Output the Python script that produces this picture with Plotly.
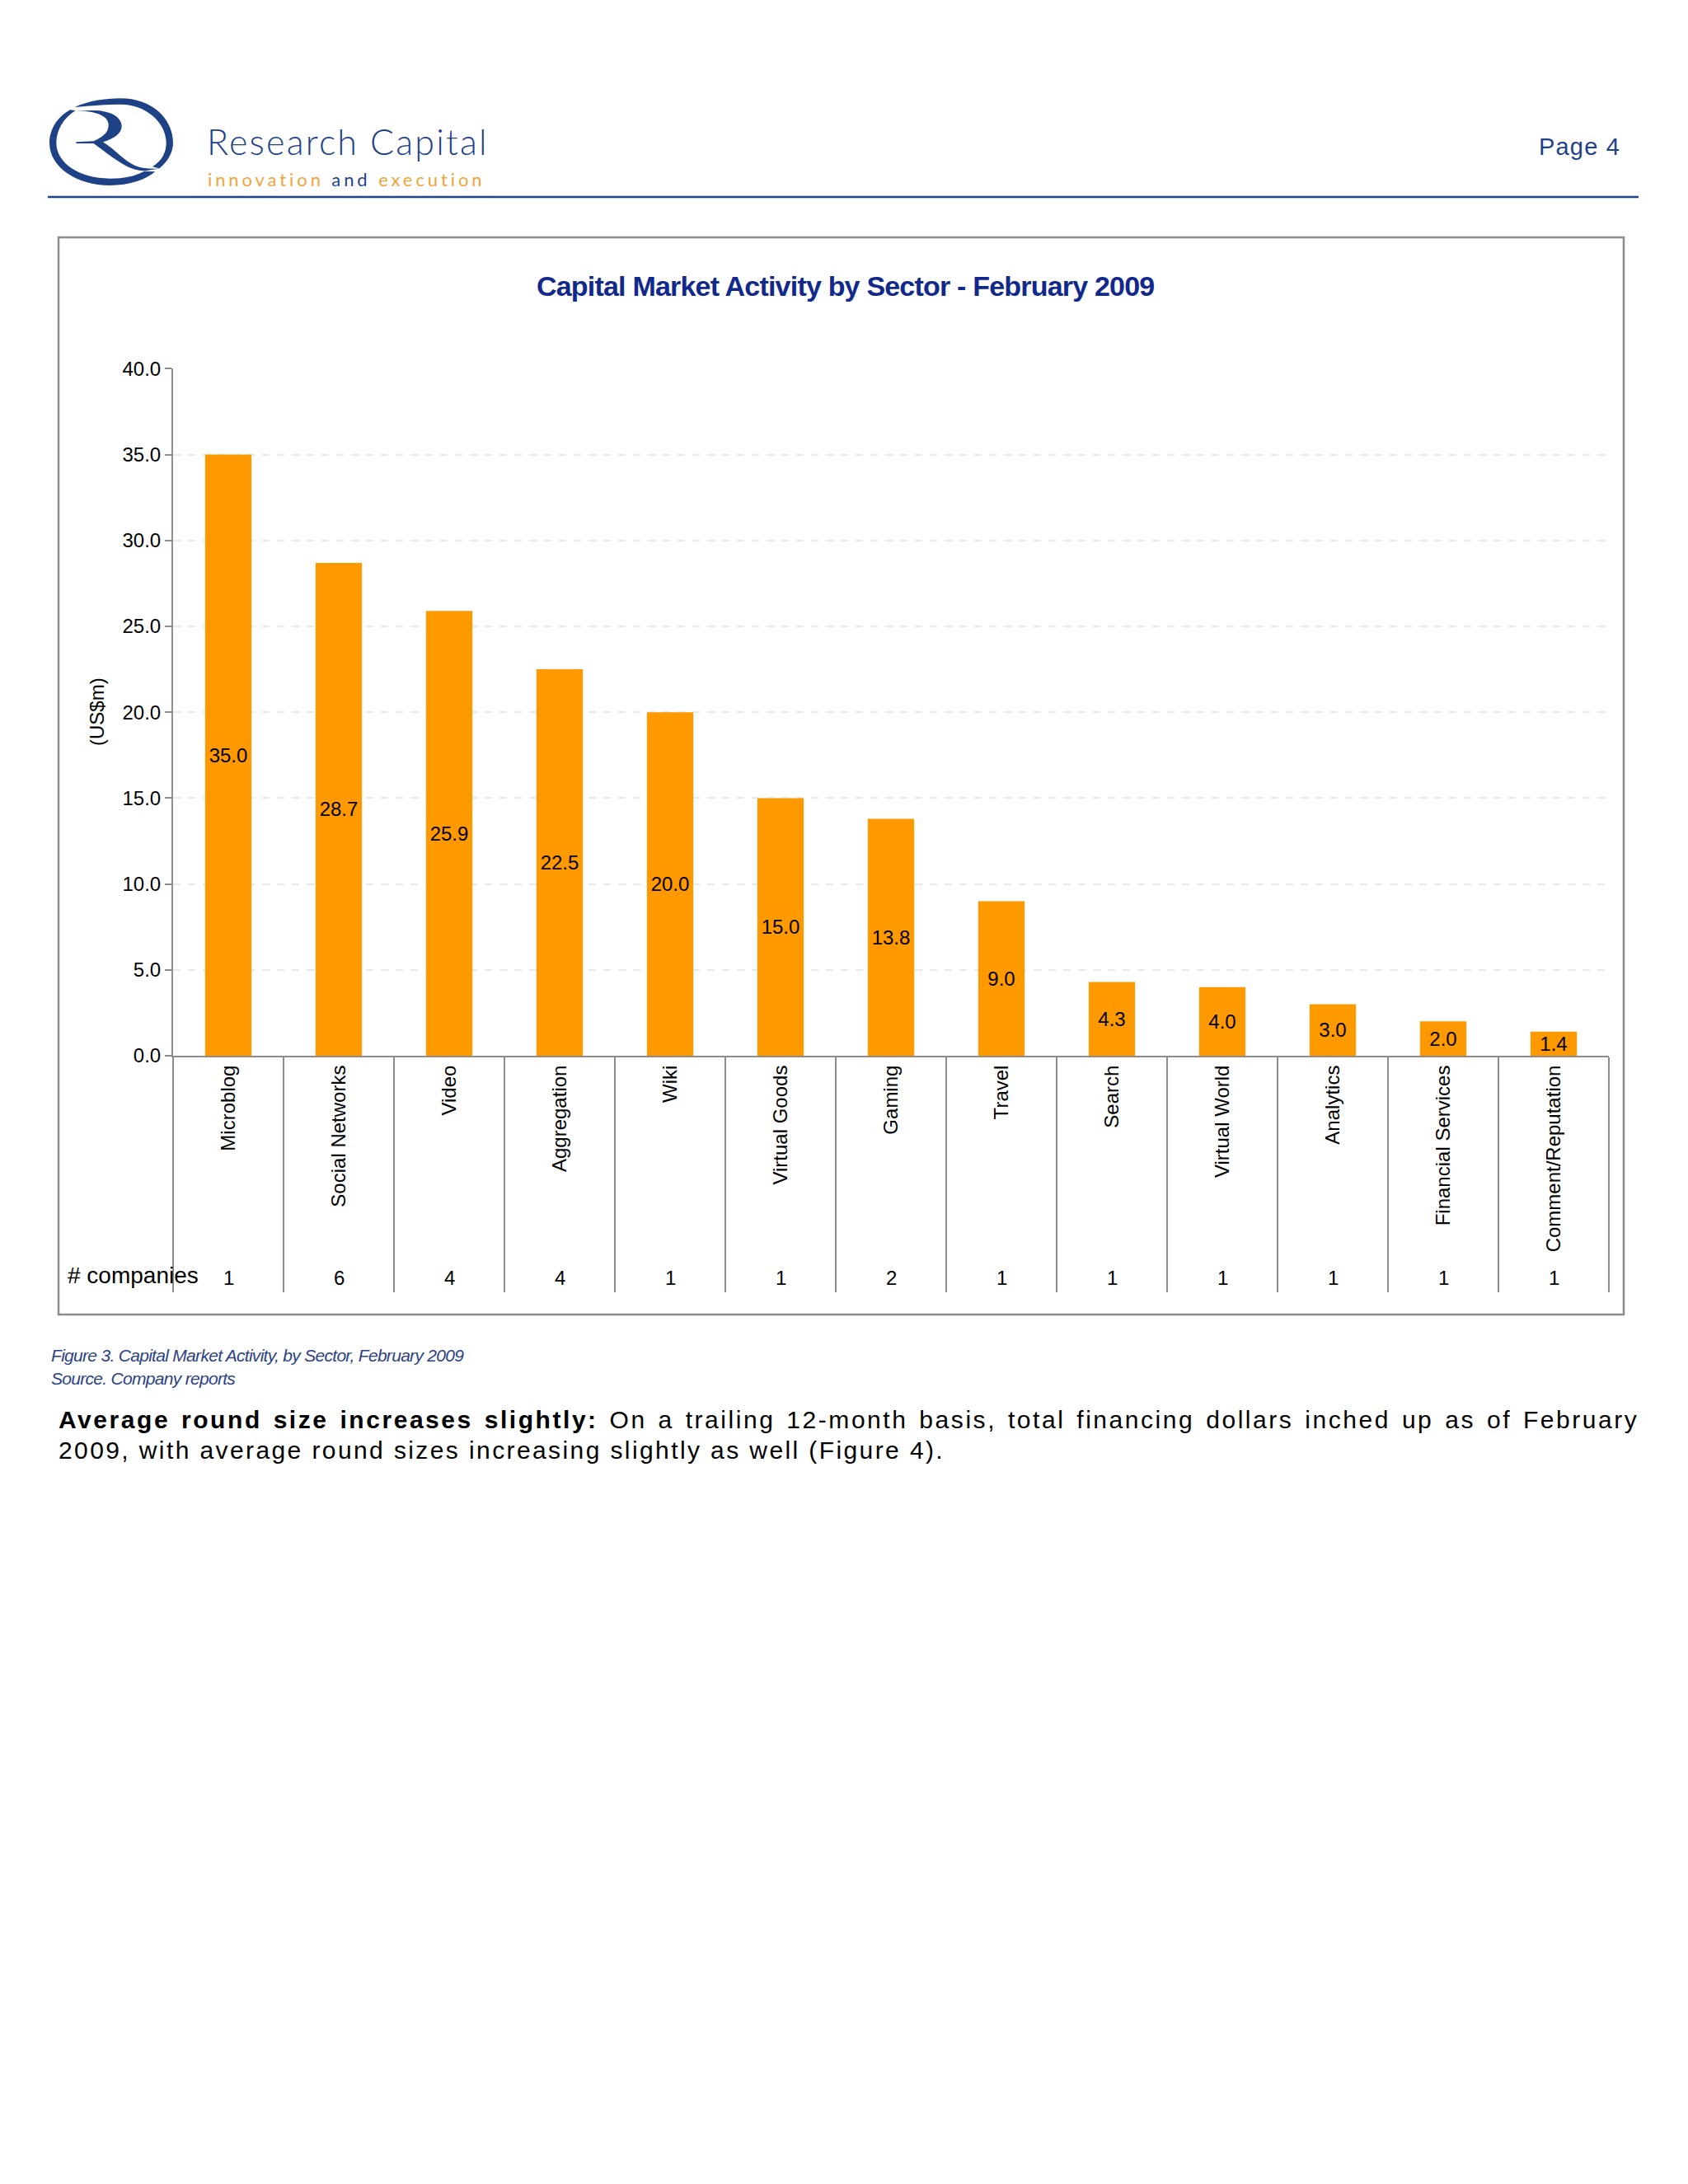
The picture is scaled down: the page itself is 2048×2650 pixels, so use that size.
import re
import plotly.graph_objects as go

# ข้อมูลกราฟ
sectors = ['Microblog', 'Social Networks', 'Video', 'Aggregation', 'Wiki', 'Virtual Goods', 'Gaming',
           'Travel', 'Search', 'Virtual World', 'Analytics', 'Financial Services', 'Comment/Reputation']
amounts = [35.0, 28.7, 25.9, 22.5, 20.0, 15.0, 13.8, 9.0, 4.3, 4.0, 3.0, 2.0, 1.4]
companies = [1, 6, 4, 4, 1, 1, 2, 1, 1, 1, 1, 1, 1]
y_ticks = [0, 5, 10, 15, 20, 25, 30, 35, 40]

W, H = 2048, 2650
OFF = 8  # ระยะขอบ body ของหน้า html
NAVY = '#1F4287'
ORANGE = '#F2A33A'
GREY = '#8C8C8C'
FONT = 'Liberation Sans'


def px(x):
    return (x - OFF) / W


def py(y):
    return 1 - (y - OFF) / H


def note(x, y, text, size, color='black', anchor='left', font=FONT, spacing=None, words=None, weight=None, **kw):
    # ข้อความบนหน้ากระดาษ โดยใช้พิกัด pixel ของหน้า
    if spacing is not None or words is not None:
        css = ''
        if spacing is not None:
            css += f'letter-spacing:{spacing}px;'
        if words is not None:
            css += f'word-spacing:{words}px;'
        text = f'<span style="{css}">{text}</span>'
    f = dict(family=font, size=size, color=color)
    if weight:
        f['weight'] = weight
    fig.add_annotation(x=px(x), y=py(y), xref='paper', yref='paper', text=text, showarrow=False,
                       xanchor=anchor, yanchor='middle', align=anchor, font=f, **kw)


def logo_path(d):
    # แปลงพิกัดของโลโก้ให้เป็นพิกัด paper
    def conv(m):
        return f'{px(50 + float(m.group(1)) / 3):.5f},{py(110 + float(m.group(2)) / 3):.5f}'
    return re.sub(r'(\d+),(\d+)', conv, d)


fig = go.Figure()
fig.add_trace(go.Bar(x=sectors, y=amounts, marker=dict(color='#FF9900', line=dict(width=0)),
                     text=[f'{v:.1f}' for v in amounts], textposition='inside', insidetextanchor='middle',
                     textangle=0, constraintext='none', cliponaxis=False,
                     textfont=dict(family=FONT, size=24, color='black')))

fig.update_layout(width=W, height=H, margin=dict(l=0, r=0, t=0, b=0, pad=0), autosize=False,
                  paper_bgcolor='white', plot_bgcolor='white', showlegend=False, bargap=0.58,
                  font=dict(family=FONT, size=24, color='black'))

fig.update_xaxes(domain=[px(210), px(1952)], range=[-0.5, len(sectors) - 0.5], tickson='boundaries',
                 ticks='outside', ticklen=285, tickcolor=GREY, tickwidth=1.5, automargin=False,
                 tickangle=-90, tickfont=dict(family=FONT, size=24), showline=True, linecolor=GREY,
                 linewidth=2, showgrid=False, zeroline=False)
fig.update_yaxes(domain=[py(1281), py(447)], range=[0, 40.02], tickvals=y_ticks, tickformat='.1f',
                 ticks='outside', ticklen=8, tickcolor=GREY, tickwidth=1.5, tickfont=dict(family=FONT, size=24),
                 showline=True, linecolor=GREY, linewidth=2, showgrid=True, gridcolor='#E8E8E8', griddash='dash',
                 gridwidth=1.5, zeroline=False, automargin=False)

# กรอบกราฟและเส้นหัวกระดาษ
fig.add_shape(type='rect', xref='paper', yref='paper', x0=px(71), x1=px(1970), y0=py(1595), y1=py(288),
              line=dict(color=GREY, width=2.5), layer='below')
fig.add_shape(type='line', xref='paper', yref='paper', x0=px(58), x1=px(1988), y0=py(239), y1=py(239),
              line=dict(color=NAVY, width=2.5))

# โลโก้
for d in ['M122,60 C170,38 230,28 290,28 C400,28 480,100 480,190 C480,225 460,260 430,283 L405,277 '
          'C440,255 455,225 455,190 C455,115 380,50 290,50 C240,50 180,55 122,60 Z',
          'M105,70 C60,95 30,140 30,190 C30,280 130,345 250,345 C320,345 380,325 415,295 L375,293 '
          'C340,312 300,320 250,320 C140,320 55,265 55,190 C55,145 80,100 125,72 Z',
          'M105,70 C140,74 170,72 190,72 C250,72 293,95 293,130 C293,155 265,175 225,187 '
          'C270,215 300,255 340,272 C370,285 410,285 435,283 L380,292 C330,292 300,270 270,250 '
          'C240,230 210,205 190,192 L127,192 L127,187 L190,184 C220,170 245,155 245,125 C245,95 210,75 125,72 Z']:
    fig.add_shape(type='path', xref='paper', yref='paper', path=logo_path(d), fillcolor=NAVY, line=dict(width=0))

note(249, 171, 'Research Capital', 43, NAVY, font='Lato', spacing=2.2, weight=300)
note(250, 217, f'<span style="letter-spacing:3.9px;">innovation <span style="fill:{NAVY}">and</span> execution</span>',
     22, ORANGE, font='Lato')
note(1968, 178, 'Page 4', 29, NAVY, anchor='right', spacing=1.2)

note(1025, 347, '<b>Capital Market Activity by Sector - February 2009</b>', 34, '#12298C', anchor='center', spacing=-0.8)
note(118, 864, '(US$m)', 24, textangle=-90, anchor='center')
note(80, 1547, '# companies', 28)
for name, n in zip(sectors, companies):
    fig.add_annotation(x=name, xref='x', y=py(1550), yref='paper', text=str(n), showarrow=False, yanchor='middle',
                       font=dict(family=FONT, size=24, color='black'))

note(60, 1645, '<i>Figure 3. Capital Market Activity, by Sector, February 2009</i>', 21, '#2C4283', spacing=-0.7)
note(60, 1672, '<i>Source. Company reports</i>', 21, '#2C4283', spacing=-0.7)
note(69, 1722, '<b>Average round size increases slightly:</b> On a trailing 12-month basis, total financing dollars '
     'inched up as of February', 30, spacing=2.55, words=3)
note(69, 1759, '2009, with average round sizes increasing slightly as well (Figure 4).', 30, spacing=2.4)

fig.write_html("out.html")
